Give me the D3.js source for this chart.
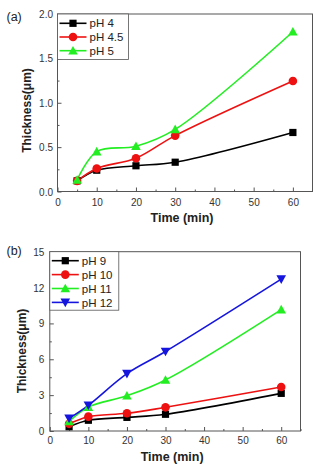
<!DOCTYPE html>
<html><head><meta charset="utf-8">
<script src="https://cdn.jsdelivr.net/npm/d3@7"></script>
<style>
body{margin:0;background:#fff;}
svg{display:block;font-family:"Liberation Sans",Arial,sans-serif;}
</style></head>
<body>
<svg id="chart" width="313" height="466"></svg>
<script>
// ---- data ----
const timesA = [5, 10, 20, 30, 60];
const namesA = ["pH 4", "pH 4.5", "pH 5"];
const pH4   = [0.12, 0.24, 0.29, 0.33, 0.665];
const pH4_5 = [0.12, 0.26, 0.375, 0.63, 1.245];
const pH5   = [0.13, 0.45, 0.51, 0.70, 1.80];
const yTicksA = [0, 0.5, 1.0, 1.5, 2.0];

const timesB = [5, 10, 20, 30, 60];
const namesB = ["pH 9", "pH 10", "pH 11", "pH 12"];
const pH9  = [0.36, 0.90, 1.14, 1.40, 3.15];
const pH10 = [0.60, 1.20, 1.48, 1.98, 3.68];
const pH11 = [0.80, 2.00, 2.95, 4.27, 10.15];
const pH12 = [1.06, 2.15, 4.80, 6.65, 12.70];
const yTicksB = [0, 3, 6, 9, 12, 15];

const xTicks = [0, 10, 20, 30, 40, 50, 60];

const colors = ["#000000", "#ee1111", "#22ee22", "#1515dd"];
const symbols = ["square", "circle", "triangle", "triangleDown"];

const svg = d3.select("#chart");

function marker(g, type, cx, cy, color) {
  if (type === "square") {
    g.append("rect").attr("x", cx - 3.6).attr("y", cy - 3.6).attr("width", 7.2).attr("height", 7.2).attr("fill", color);
  } else if (type === "circle") {
    g.append("circle").attr("cx", cx).attr("cy", cy).attr("r", 4.3).attr("fill", color);
  } else if (type === "triangle") {
    const s = 4.8;
    g.append("path").attr("d", `M${cx},${cy - s}L${cx + s},${cy + s * 0.8}L${cx - s},${cy + s * 0.8}Z`).attr("fill", color);
  } else {
    const s = 4.8;
    g.append("path").attr("d", `M${cx},${cy + s}L${cx + s},${cy - s * 0.8}L${cx - s},${cy - s * 0.8}Z`).attr("fill", color);
  }
}

function panel(cfg) {
  const x = d3.scaleLinear().domain([0, 65]).range([cfg.left, cfg.right]);
  const y = d3.scaleLinear().domain([0, cfg.ymax]).range([cfg.bottom, cfg.top]);
  const g = svg.append("g");
  const frame = "#555";

  // frame
  g.append("rect").attr("x", cfg.left).attr("y", cfg.top)
    .attr("width", cfg.right - cfg.left).attr("height", cfg.bottom - cfg.top)
    .attr("fill", "none").attr("stroke", frame).attr("stroke-width", 1);

  // x axis (inward ticks)
  const xAxis = d3.axisBottom(x).tickValues(xTicks).tickSize(-4).tickPadding(0).tickFormat(d3.format("d"));
  const xg = g.append("g").attr("transform", `translate(0,${cfg.bottom})`).call(xAxis);
  xg.select(".domain").remove();
  xg.selectAll("line").attr("stroke", frame);
  xg.selectAll("text").attr("y", cfg.xLabelDy).attr("dy", 0).attr("fill", "#333").attr("font-size", 10).attr("font-family", "Liberation Sans, Arial, sans-serif");
  const xMinor = d3.axisBottom(x).tickValues([5, 15, 25, 35, 45, 55, 65]).tickSize(-2).tickFormat("");
  const xmg = g.append("g").attr("transform", `translate(0,${cfg.bottom})`).call(xMinor);
  xmg.select(".domain").remove();
  xmg.selectAll("line").attr("stroke", frame);

  // y axis
  const yAxis = d3.axisLeft(y).tickValues(cfg.yTicks).tickSize(-4).tickPadding(0).tickFormat(cfg.yFmt);
  const yg = g.append("g").attr("transform", `translate(${cfg.left},0)`).call(yAxis);
  yg.select(".domain").remove();
  yg.selectAll("line").attr("stroke", frame);
  yg.selectAll("text").attr("x", -cfg.yLabelGap).attr("dy", "0.35em").attr("fill", "#333").attr("font-size", 10).attr("font-family", "Liberation Sans, Arial, sans-serif");
  const minorY = d3.range(cfg.yMinorStep, cfg.ymax, cfg.yMinorStep * 2);
  const ymg = g.append("g").attr("transform", `translate(${cfg.left},0)`).call(d3.axisLeft(y).tickValues(minorY).tickSize(-2).tickFormat(""));
  ymg.select(".domain").remove();
  ymg.selectAll("line").attr("stroke", frame);

  // lines
  const line = d3.line().x(d => x(d[0])).y(d => y(d[1])).curve(d3.curveCatmullRom.alpha(0.5));
  cfg.series.forEach((vals, i) => {
    const pts = cfg.times.map((t, j) => [t, vals[j]]);
    g.append("path").attr("d", line(pts)).attr("fill", "none").attr("stroke", colors[i]).attr("stroke-width", 1.6);
  });
  cfg.series.forEach((vals, i) => {
    cfg.times.forEach((t, j) => marker(g, symbols[i], x(t), y(vals[j]), colors[i]));
  });

  // legend
  const lg = g.append("g");
  lg.append("rect").attr("x", cfg.left).attr("y", cfg.top).attr("width", cfg.legW).attr("height", cfg.legH)
    .attr("fill", "#fff").attr("stroke", frame).attr("stroke-width", 0.8);
  cfg.names.forEach((n, i) => {
    const yy = cfg.legY0 + i * cfg.legStep;
    lg.append("line").attr("x1", cfg.left + 2).attr("x2", cfg.left + 2 + cfg.legLine).attr("y1", yy).attr("y2", yy)
      .attr("stroke", colors[i]).attr("stroke-width", 1.6);
    marker(lg, symbols[i], cfg.left + 2 + cfg.legLine / 2, yy, colors[i]);
    lg.append("text").attr("x", cfg.left + cfg.legLine + 5).attr("y", yy).attr("dy", "0.36em")
      .attr("font-size", 11.5).attr("fill", "#222").text(n);
  });

  // titles
  g.append("text").attr("x", (cfg.left + cfg.right) / 2 - 3).attr("y", cfg.xTitleY).attr("text-anchor", "middle")
    .attr("font-weight", "bold").attr("font-size", 12.5).attr("fill", "#222").text("Time (min)");
  g.append("text").attr("transform", `translate(${cfg.yTitleX},${cfg.yTitleCY}) rotate(-90)`).attr("text-anchor", "middle")
    .attr("font-weight", "bold").attr("font-size", 12).attr("fill", "#222").text("Thickness(μm)");
  g.append("text").attr("x", 6.5).attr("y", cfg.tagY).attr("font-size", 12.5).attr("fill", "#222").text(cfg.tag);
}

panel({
  left: 57.5, right: 312.5, top: 14, bottom: 191.5, ymax: 2.0,
  yTicks: yTicksA, yFmt: d3.format(".1f"), yMinorStep: 0.25, yLabelGap: 4.5, xLabelDy: 14.5,
  times: timesA, series: [pH4, pH4_5, pH5], names: namesA,
  legW: 71, legH: 45.5, legY0: 23.3, legStep: 13.7, legLine: 27,
  xTitleY: 221.5, yTitleX: 30.5, yTitleCY: 110.5, tag: "(a)", tagY: 21
});
panel({
  left: 49.8, right: 300.5, top: 251.7, bottom: 431, ymax: 15,
  yTicks: yTicksB, yFmt: d3.format("d"), yMinorStep: 1.5, yLabelGap: 5.5, xLabelDy: 12.5,
  times: timesB, series: [pH9, pH10, pH11, pH12], names: namesB,
  legW: 69, legH: 58.5, legY0: 260.7, legStep: 13.9, legLine: 27,
  xTitleY: 461, yTitleX: 25.5, yTitleCY: 351, tag: "(b)", tagY: 254.5
});
</script>
</body></html>
